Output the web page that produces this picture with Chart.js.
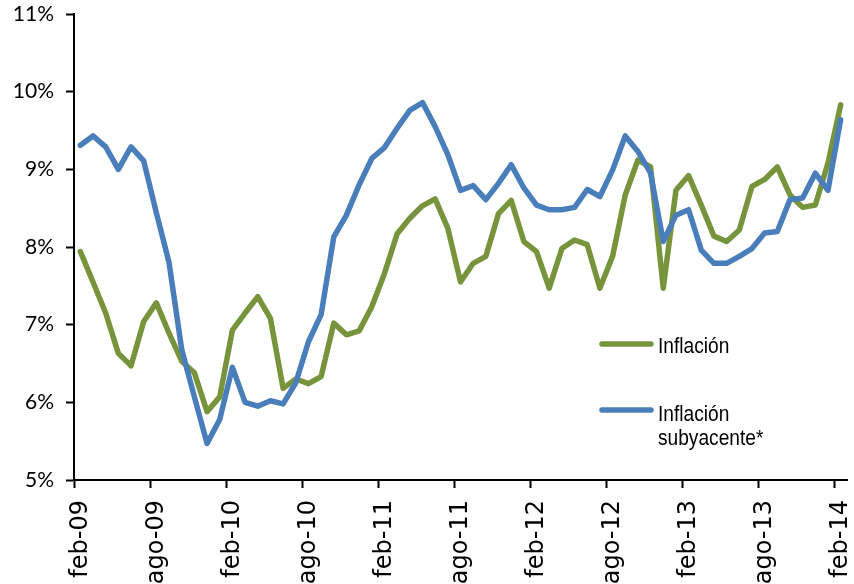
<!DOCTYPE html>
<html>
<head>
<meta charset="utf-8">
<script src="https://cdn.jsdelivr.net/npm/chart.js@4"></script>
<style>
  html, body { margin: 0; padding: 0; background: #fff; }
  #wrap { width: 854px; height: 584px; position: relative; }
</style>
</head>
<body>
<div id="wrap"><canvas id="chart" width="854" height="584"></canvas></div>
<script>
// Meses (feb-09 ... feb-14)
const meses = [
  'feb-09','mar-09','abr-09','may-09','jun-09','jul-09','ago-09','sep-09','oct-09','nov-09','dic-09','ene-10',
  'feb-10','mar-10','abr-10','may-10','jun-10','jul-10','ago-10','sep-10','oct-10','nov-10','dic-10','ene-11',
  'feb-11','mar-11','abr-11','may-11','jun-11','jul-11','ago-11','sep-11','oct-11','nov-11','dic-11','ene-12',
  'feb-12','mar-12','abr-12','may-12','jun-12','jul-12','ago-12','sep-12','oct-12','nov-12','dic-12','ene-13',
  'feb-13','mar-13','abr-13','may-13','jun-13','jul-13','ago-13','sep-13','oct-13','nov-13','dic-13','ene-14',
  'feb-14'
];

// Inflación (%)
const inflacion = [
  7.94, 7.55, 7.15, 6.63, 6.47, 7.04, 7.28, 6.89, 6.53, 6.38, 5.88, 6.07,
  6.93, 7.15, 7.36, 7.08, 6.18, 6.30, 6.24, 6.33, 7.02, 6.87, 6.92, 7.23,
  7.66, 8.17, 8.37, 8.53, 8.62, 8.24, 7.55, 7.79, 7.88, 8.43, 8.60, 8.07,
  7.94, 7.47, 7.98, 8.09, 8.03, 7.47, 7.88, 8.67, 9.12, 9.03, 7.47, 8.73,
  8.92, 8.54, 8.14, 8.07, 8.22, 8.78, 8.87, 9.03, 8.67, 8.51, 8.54, 9.08,
  9.83
];

// Inflación subyacente (%)
const subyacente = [
  9.31, 9.43, 9.29, 9.00, 9.29, 9.11, 8.44, 7.80, 6.68, 6.07, 5.47, 5.78,
  6.45, 6.00, 5.95, 6.02, 5.98, 6.25, 6.78, 7.13, 8.13, 8.41, 8.80, 9.14,
  9.28, 9.53, 9.76, 9.86, 9.55, 9.19, 8.73, 8.79, 8.61, 8.82, 9.06, 8.76,
  8.54, 8.48, 8.48, 8.51, 8.74, 8.65, 8.99, 9.43, 9.23, 8.95, 8.07, 8.41,
  8.48, 7.96, 7.79, 7.79, 7.88, 7.98, 8.18, 8.20, 8.61, 8.63, 8.95, 8.73,
  9.64
];

const verde = 'rgb(119, 147, 60)';
const azul = 'rgb(74, 126, 187)';

// Leyenda dentro del área del gráfico (texto estrecho tipo Arial Narrow)
const leyenda = {
  id: 'leyenda',
  afterDraw(chart) {
    const ctx = chart.ctx;
    ctx.save();
    ctx.lineWidth = 5.5;
    ctx.lineCap = 'round';
    ctx.strokeStyle = verde;
    ctx.beginPath(); ctx.moveTo(602, 344); ctx.lineTo(651, 344); ctx.stroke();
    ctx.strokeStyle = azul;
    ctx.beginPath(); ctx.moveTo(602, 410); ctx.lineTo(651, 410); ctx.stroke();
    ctx.fillStyle = '#000';
    ctx.font = '22px "Liberation Sans", Arial';
    ctx.textBaseline = 'alphabetic';
    const texto = (t, x, y) => {
      ctx.save();
      ctx.translate(x, y);
      ctx.scale(0.87, 1);
      ctx.fillText(t, 0, 0);
      ctx.restore();
    };
    texto('Inflación', 658, 353);
    texto('Inflación', 658, 421);
    texto('subyacente*', 658, 445);
    ctx.restore();
  }
};

const config = {
  type: 'line',
  data: {
    labels: meses,
    datasets: [{
      label: 'Inflación',
      data: inflacion,
      borderColor: verde,
      borderWidth: 5.5,
      pointRadius: 0,
      tension: 0,
      borderJoinStyle: 'round',
      borderCapStyle: 'round',
      order: 1
    }, {
      label: 'Inflación subyacente*',
      data: subyacente,
      borderColor: azul,
      borderWidth: 5.5,
      pointRadius: 0,
      tension: 0,
      borderJoinStyle: 'round',
      borderCapStyle: 'round',
      order: 0
    }]
  },
  options: {
    responsive: false,
    animation: false,
    layout: {
      autoPadding: false,
      padding: { top: 14, right: 7, left: 0, bottom: 0 }
    },
    plugins: {
      legend: { display: false },
      tooltip: { enabled: false }
    },
    scales: {
      x: {
        offset: true,
        grid: {
          offset: true,
          drawOnChartArea: false,
          tickLength: 8,
          tickWidth: 2,
          tickColor: c => (c.index % 6 === 0 ? '#000' : 'rgba(0,0,0,0)')
        },
        border: { color: '#000', width: 2 },
        ticks: {
          autoSkip: false,
          minRotation: 90,
          maxRotation: 90,
          padding: 12,
          color: '#000',
          font: { family: '"DejaVu Sans"', size: 24 },
          callback: function (v, i) { return i % 6 === 0 ? meses[i] : ''; }
        },
        afterFit: s => { s.height = 104; s.paddingLeft = 0; s.paddingRight = 0; }
      },
      y: {
        min: 5,
        max: 11,
        grid: {
          drawOnChartArea: false,
          tickLength: 8,
          tickWidth: 2,
          tickColor: '#000'
        },
        border: { color: '#000', width: 2 },
        ticks: {
          stepSize: 1,
          padding: 12,
          color: '#000',
          font: { family: 'Lato', size: 21 },
          callback: v => v + '%'
        },
        afterFit: s => { s.width = 74; s.paddingTop = 0; s.paddingBottom = 0; }
      }
    }
  },
  plugins: [leyenda]
};

const myChart = new Chart(document.getElementById('chart'), config);
</script>
</body>
</html>
